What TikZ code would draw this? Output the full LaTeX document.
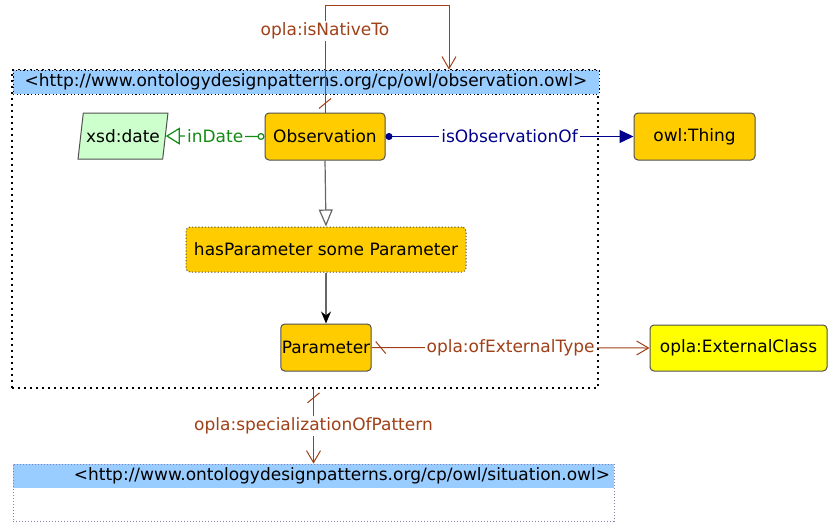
\documentclass[tikz,border=0pt]{standalone}
\usepackage{fontspec}
\setmainfont{DejaVu Sans}
\usetikzlibrary{arrows.meta,shapes.geometric,decorations.markings}
\definecolor{oplabrown}{RGB}{160,64,24}
\definecolor{propblue}{RGB}{0,0,140}
\definecolor{dtgreen}{RGB}{20,140,20}
\definecolor{classgold}{RGB}{255,204,0}
\definecolor{extyellow}{RGB}{255,255,0}
\definecolor{dategreen}{RGB}{204,255,204}
\definecolor{hdrblue}{RGB}{153,204,255}
\definecolor{hdrline}{RGB}{130,130,180}
\definecolor{boxline}{RGB}{80,80,80}

\begin{document}
\begin{tikzpicture}[x=0.5pt, y=-0.5pt,
      every node/.style={font=\fontsize{8.5pt}{10pt}\selectfont},
      cls/.style={draw=boxline, fill=classgold, rounded corners=2pt, line width=0.5pt, minimum height=23.5pt},
      hdr/.style={fill=hdrblue, inner ysep=1pt, inner xsep=2pt, minimum height=12pt},
      lbl/.style={fill=white, inner sep=1pt},
      opla/.style={draw=oplabrown, oplabrown, line width=0.5pt, -{Straight Barb[length=6pt,width=7pt]}},
      srctick/.style={postaction={decorate, decoration={markings,
            mark=at position 4.5pt with {\draw[-] (-2.5pt,3pt) -- (2.5pt,-3pt);}}}}]
      \useasboundingbox (0,0) rectangle (828,525);
      % pattern frame
      \node (frame1) [draw, line width=0.8pt, dash pattern=on 0.8pt off 2.2pt,
            minimum width=293pt, minimum height=159pt, inner sep=0] at (305,229) {};
      \node (hdr1) [hdr, draw, dash pattern=on 0.6pt off 1.2pt, minimum width=293pt] at (306,82)
            {<http://www.ontologydesignpatterns.org/cp/owl/observation.owl>};
      % classes
      \node (obs) [cls, minimum width=60pt] at (325,136.5) {Observation};
      \node (thing) [cls, minimum width=60.5pt] at (694.5,136.5) {owl:Thing};
      \node (date) [trapezium, trapezium left angle=79, trapezium right angle=101, trapezium stretches=true,
            draw=boxline, line width=0.5pt, fill=dategreen, minimum width=45pt, minimum height=23pt, inner xsep=1pt]
            at (123,136) {xsd:date};
      \node (hasp) [cls, dash pattern=on 0.6pt off 1pt, minimum width=140pt, minimum height=22.5pt] at (326,249.5)
            {hasParameter some Parameter};
      \node (param) [cls, minimum width=44pt, inner xsep=0.5pt] at (326,347.5) {Parameter};
      \node (ext) [cls, fill=extyellow, minimum width=88.5pt, minimum height=23pt] at (738.5,348) {opla:ExternalClass};
      % situation pattern
      \node (hdr2) [hdr, minimum width=300.5pt, text width=296.5pt, align=right] at (313.5,476)
            {<http://www.ontologydesignpatterns.org/cp/owl/situation.owl>};
      \node (frame2) [draw=hdrline, line width=0.5pt, dash pattern=on 0.5pt off 1pt,
            minimum width=300.5pt, minimum height=28.5pt, inner sep=0] at (313.5,492.5) {};
      % connectors
      \coordinate (nt) at (449,5);
      \draw[opla, srctick] (obs.north) -- node [lbl, pos=.76] {opla:isNativeTo} (obs.north |- nt) -- (nt) -- (nt |- hdr1.north);
      \draw[dtgreen, line width=0.6pt, {Circle[open,length=3.5pt]}-{Triangle[open,length=7pt,width=8.5pt]}]
            (obs.west) -- node [lbl] {inDate} (date.east);
      \draw[propblue, line width=0.6pt, {Circle[length=3.5pt]}-{Triangle[length=7pt,width=6.5pt]}]
            (obs.east) -- node [lbl] {isObservationOf} (thing.west);
      \draw[gray!80!black, line width=0.6pt, -{Triangle[open,length=8.5pt,width=7pt]}] (obs.south) -- (hasp.north);
      \draw[gray!80!black, line width=0.6pt, -{Stealth[length=6pt,width=5pt,black]}] (hasp.south) -- (param.north);
      \draw[opla, srctick] (param.east) -- node [lbl] {opla:ofExternalType} (ext.west);
      \draw[opla, srctick] (frame1.south -| hdr2.north) -- node [lbl] {opla:specializationOfPattern} (hdr2.north);
\end{tikzpicture}
\end{document}
